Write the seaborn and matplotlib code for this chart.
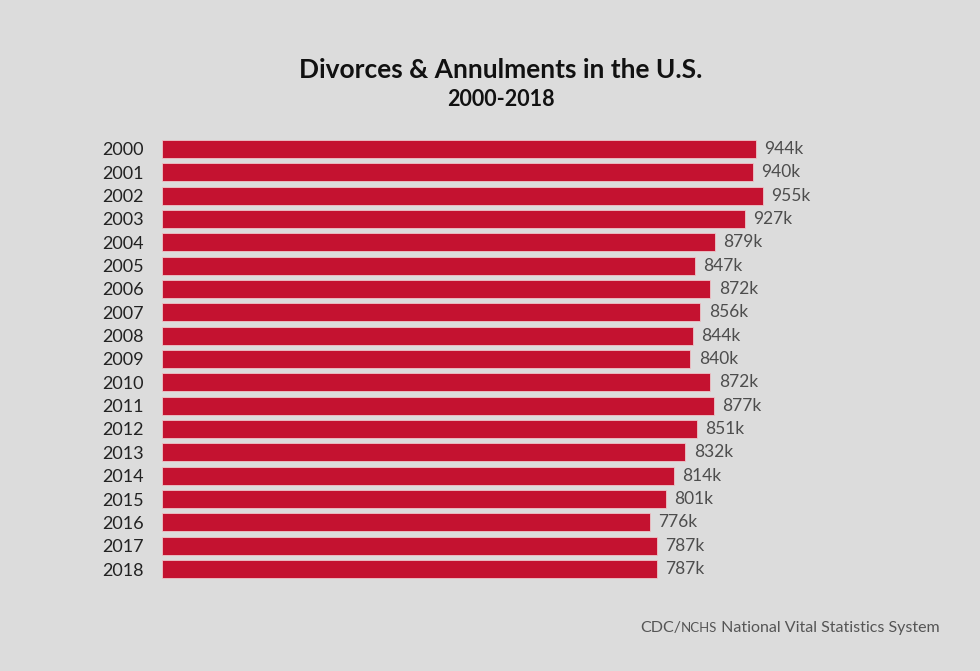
import pandas as pd
import matplotlib.pyplot as plt
import seaborn as sns
from matplotlib.offsetbox import TextArea, HPacker, AnnotationBbox

years = [str(y) for y in range(2000, 2019)]
divorces_k = [944, 940, 955, 927, 879, 847, 872, 856, 844, 840,
              872, 877, 851, 832, 814, 801, 776, 787, 787]
value_labels = [f"{v}k" for v in divorces_k]

title = "Divorces & Annulments in the U.S."
subtitle = "2000-2018"
source_parts = ["CDC/", "NCHS", " National Vital Statistics System"]

bg = "#dcdcdc"
bar_color = "#c41230"

df = pd.DataFrame({"year": years, "divorces": divorces_k})

sns.set_theme(style="white")
plt.rcParams['font.family'] = ['Lato', 'DejaVu Sans']

fig = plt.figure(figsize=(9.8, 6.71), dpi=100, facecolor=bg)
ax = fig.add_axes([162 / 980, 0.1346, 629 / 980, 0.6608])
ax.set_facecolor(bg)

sns.barplot(data=df, x="divorces", y="year", orient="h", color=bar_color,
            saturation=1, width=0.78, edgecolor="#eec6ca", linewidth=0.6, ax=ax)

ax.set_xlim(0, 1000)
ax.set_ylim(18.5, -0.5)
for s in ax.spines.values():
    s.set_visible(False)
ax.set_xticks([])
ax.set_xlabel("")
ax.set_ylabel("")
ax.tick_params(axis="y", length=0, pad=13, labelsize=13, labelcolor="#222222")

for i, (v, lab) in enumerate(zip(divorces_k, value_labels)):
    ax.annotate(lab, (v, i), xytext=(6, 0), textcoords="offset points",
                va="center", ha="left", fontsize=12.5, color="#4d4d4d")

fig.text(0.511, 0.895, title, ha="center", va="center", fontsize=19,
         fontweight="bold", color="#111111")
fig.text(0.511, 0.851, subtitle, ha="center", va="center", fontsize=15.5,
         fontweight="bold", color="#111111")

# source line, "NCHS" set in small caps style
sizes = [11.5, 9.5, 11.5]
parts = [TextArea(t, textprops=dict(fontsize=fs, color="#555555"))
         for t, fs in zip(source_parts, sizes)]
box = HPacker(children=parts, align="baseline", pad=0, sep=0)
ab = AnnotationBbox(box, (0.959, 0.064), xycoords="figure fraction",
                    box_alignment=(1, 0.5), frameon=False)
fig.add_artist(ab)

fig.savefig("out.png", dpi=100, facecolor=bg)
